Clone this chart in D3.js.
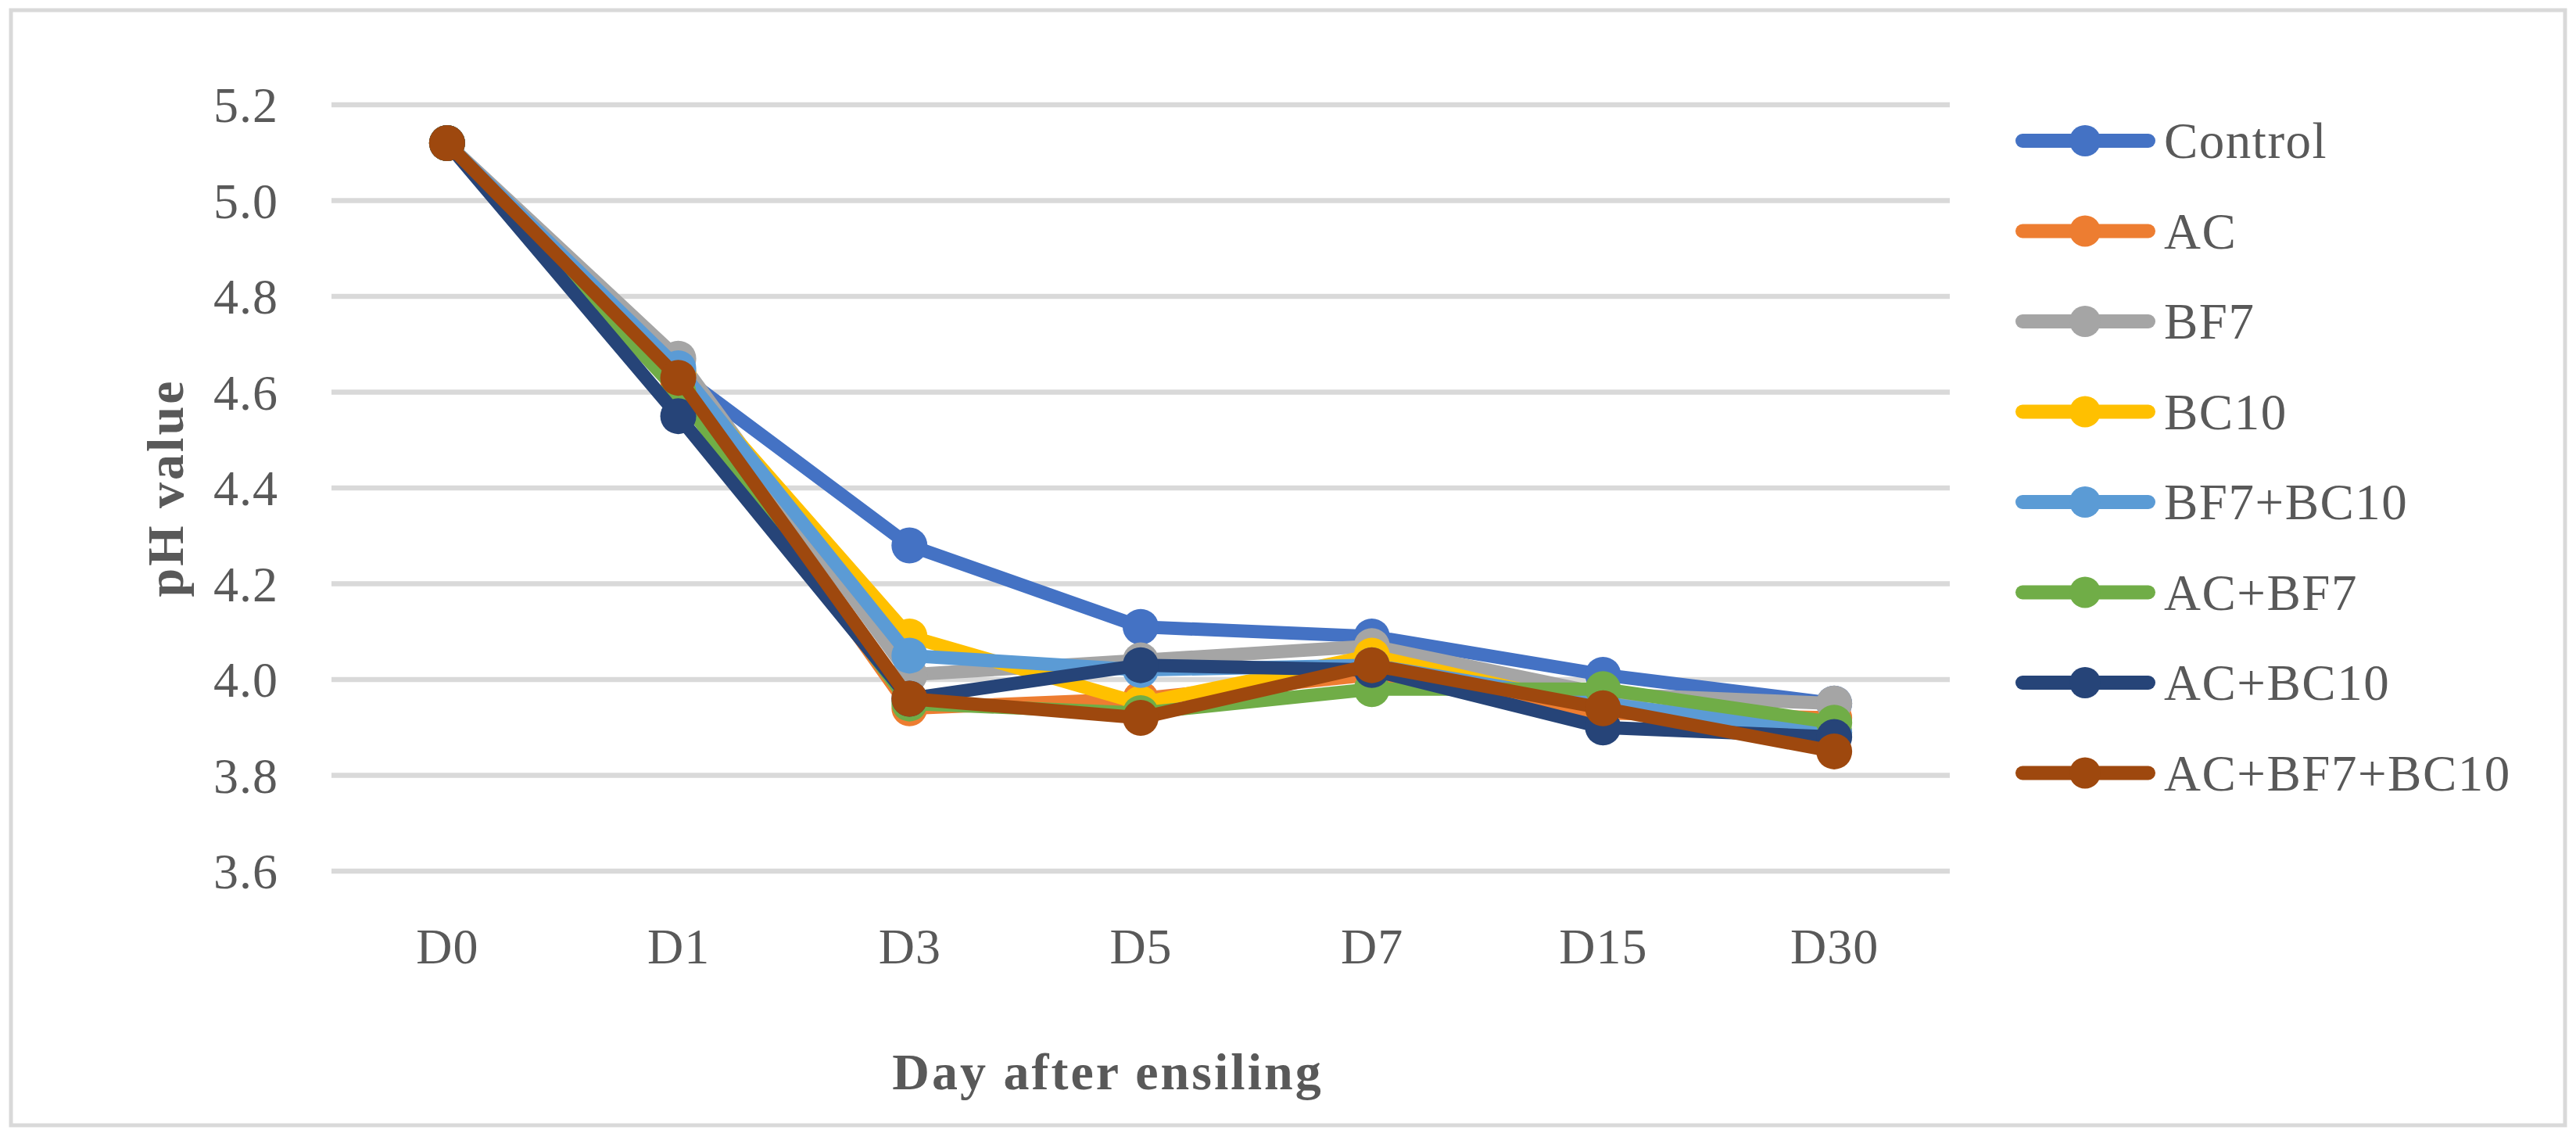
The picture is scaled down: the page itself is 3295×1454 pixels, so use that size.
<!DOCTYPE html>
<html>
<head>
<meta charset="utf-8">
<script src="https://cdn.jsdelivr.net/npm/d3@7"></script>
<style>
  html, body { margin: 0; padding: 0; background: #fff; }
  svg { display: block; }
  text { font-family: "Palatino Linotype", "Book Antiqua", Palatino, "Liberation Serif", serif; fill: #595959; }
</style>
</head>
<body>
<svg id="chart" width="3295" height="1454"></svg>
<script>
const categories = ["D0", "D1", "D3", "D5", "D7", "D15", "D30"];
const seriesNames = ["Control", "AC", "BF7", "BC10", "BF7+BC10", "AC+BF7", "AC+BC10", "AC+BF7+BC10"];
const seriesColors = ["#4472C4", "#ED7D31", "#A5A5A5", "#FFC000", "#5B9BD5", "#70AD47", "#264478", "#9E480E"];
const control   = [5.12, 4.64, 4.28, 4.11, 4.09, 4.01, 3.95];
const ac        = [5.12, 4.62, 3.94, 3.96, 4.01, 3.93, 3.92];
const bf7       = [5.12, 4.67, 4.01, 4.04, 4.07, 3.97, 3.95];
const bc10      = [5.12, 4.64, 4.09, 3.95, 4.05, 3.94, 3.89];
const bf7bc10   = [5.12, 4.65, 4.05, 4.02, 4.03, 3.95, 3.89];
const acbf7     = [5.12, 4.60, 3.95, 3.93, 3.98, 3.98, 3.91];
const acbc10    = [5.12, 4.55, 3.96, 4.03, 4.02, 3.90, 3.88];
const acbf7bc10 = [5.12, 4.63, 3.96, 3.92, 4.03, 3.94, 3.85];
const seriesValues = [control, ac, bf7, bc10, bf7bc10, acbf7, acbc10, acbf7bc10];
const yTicks = [3.6, 3.8, 4.0, 4.2, 4.4, 4.6, 4.8, 5.0, 5.2];
const xTitle = "Day after ensiling";
const yTitle = "pH value";

const svg = d3.select("#chart");
const fontStack = '"Palatino Linotype", "Book Antiqua", Palatino, "Liberation Serif", serif';

// outer chart border
svg.append("rect")
  .attr("x", 14).attr("y", 13).attr("width", 3267).attr("height", 1426)
  .attr("fill", "#fff").attr("stroke", "#d9d9d9").attr("stroke-width", 5);

const plot = { left: 424, right: 2494, top: 134, bottom: 1114 };

const x = d3.scalePoint().domain(categories).range([plot.left, plot.right]).padding(0.5);
const y = d3.scaleLinear().domain([3.6, 5.2]).range([plot.bottom, plot.top]);

// gridlines
svg.append("g").selectAll("line").data(yTicks).join("line")
  .attr("x1", plot.left).attr("x2", plot.right)
  .attr("y1", d => y(d)).attr("y2", d => y(d))
  .attr("stroke", "#d9d9d9").attr("stroke-width", 6.5);

// y axis labels
const yAxis = d3.axisLeft(y).tickValues(yTicks).tickFormat(d3.format(".1f")).tickSize(0).tickPadding(0);
const gy = svg.append("g").attr("transform", "translate(356,0)").call(yAxis);
gy.select(".domain").remove();
gy.selectAll("text")
  .attr("font-size", 64).attr("fill", "#595959")
  .style("font-family", fontStack)
  .attr("letter-spacing", 1)
  .attr("dy", "0.34em");

// x axis labels
const xAxis = d3.axisBottom(x).tickSize(0).tickPadding(0);
const gx = svg.append("g").attr("transform", "translate(0,1232)").call(xAxis);
gx.select(".domain").remove();
gx.selectAll("text")
  .attr("font-size", 64).attr("fill", "#595959")
  .style("font-family", fontStack)
  .attr("letter-spacing", 1)
  .attr("dy", 0);

// axis titles
svg.append("text")
  .attr("x", 1417).attr("y", 1393)
  .attr("text-anchor", "middle")
  .attr("font-size", 66).attr("font-weight", "bold")
  .attr("letter-spacing", 3)
  .text(xTitle);

svg.append("text")
  .attr("transform", "translate(234,624) rotate(-90)")
  .attr("text-anchor", "middle")
  .attr("font-size", 66).attr("font-weight", "bold")
  .attr("letter-spacing", 3)
  .text(yTitle);

// series
const line = d3.line().x((d, i) => x(categories[i])).y(d => y(d));
seriesNames.forEach((name, si) => {
  const g = svg.append("g");
  g.append("path")
    .attr("d", line(seriesValues[si]))
    .attr("fill", "none")
    .attr("stroke", seriesColors[si])
    .attr("stroke-width", 17)
    .attr("stroke-linejoin", "round")
    .attr("stroke-linecap", "round");
  g.selectAll("circle").data(seriesValues[si]).join("circle")
    .attr("cx", (d, i) => x(categories[i]))
    .attr("cy", d => y(d))
    .attr("r", 23)
    .attr("fill", seriesColors[si]);
});

// legend
const legend = svg.append("g");
seriesNames.forEach((name, i) => {
  const ly = 180 + i * 115.5;
  const g = legend.append("g").attr("transform", `translate(0,${ly})`);
  g.append("line")
    .attr("x1", 2587).attr("x2", 2748)
    .attr("stroke", seriesColors[i]).attr("stroke-width", 18)
    .attr("stroke-linecap", "round");
  g.append("circle").attr("cx", 2667).attr("cy", 0).attr("r", 20).attr("fill", seriesColors[i]);
  g.append("text")
    .attr("x", 2768).attr("y", 0).attr("dy", "0.34em")
    .attr("font-size", 65)
    .attr("letter-spacing", 1.5)
    .text(name);
});
</script>
</body>
</html>
